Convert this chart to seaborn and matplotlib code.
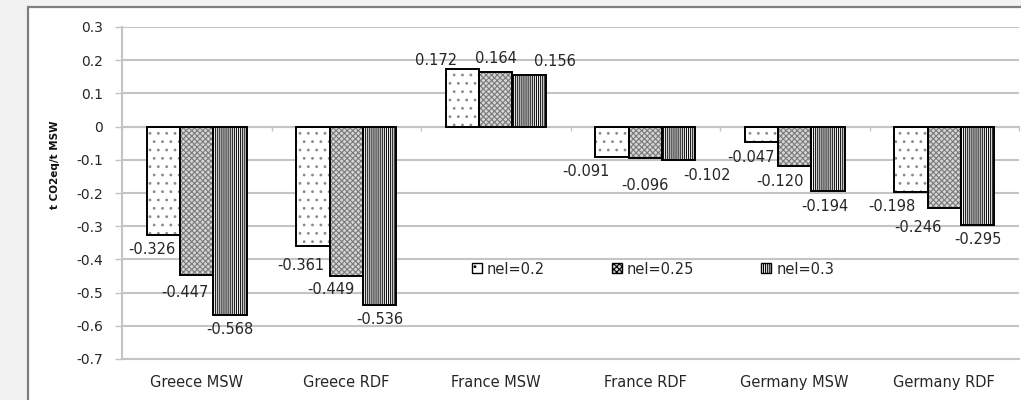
import matplotlib
matplotlib.use("Agg")
import matplotlib.pyplot as plt
import matplotlib.patches as mpatches
from matplotlib.ticker import FixedLocator
import numpy as np
import pandas as pd
import seaborn as sns

# Net GHG emissions per tonne of MSW for each case and electrical efficiency
cases = ["Greece MSW", "Greece RDF", "France MSW", "France RDF", "Germany MSW", "Germany RDF"]
series_labels = ["nel=0.2", "nel=0.25", "nel=0.3"]
nel_020 = [-0.326, -0.361, 0.172, -0.091, -0.047, -0.198]
nel_025 = [-0.447, -0.449, 0.164, -0.096, -0.120, -0.246]
nel_030 = [-0.568, -0.536, 0.156, -0.102, -0.194, -0.295]
y_ticks = [0.3, 0.2, 0.1, 0.0, -0.1, -0.2, -0.3, -0.4, -0.5, -0.6, -0.7]
y_label = "t CO2eq/t MSW"

sns.set_style("white")
plt.rcParams["font.family"] = ["DejaVu Sans"]
plt.rcParams["axes.unicode_minus"] = False
plt.rcParams["hatch.linewidth"] = 0.8

text_color = "#262626"
grid_color = "#c4c4c4"

df = pd.DataFrame({
    "case": np.repeat(cases, 3),
    "series": series_labels * len(cases),
    "value": np.column_stack([nel_020, nel_025, nel_030]).ravel(),
})

fig = plt.figure(figsize=(10.21, 4.0), dpi=100, facecolor="#f2f2f2")
W, H = 1021, 400

# white chart panel with grey border, kept behind the axes
fig.patches.append(mpatches.Rectangle((27.5 / W, -0.1), 1.2, 1.0 - 6.5 / H + 0.1,
                                      transform=fig.transFigure, facecolor="white",
                                      edgecolor="#7f7f7f", linewidth=1.6, zorder=-5))

ax = fig.add_axes([122 / W, 41 / H, 897 / W, 332 / H])
ax.set_facecolor("white")

fills = {"nel=0.2": "#ffffff", "nel=0.25": "#d6d6d6", "nel=0.3": "#ffffff"}
sns.barplot(data=df, x="case", y="value", hue="series", order=cases,
            hue_order=series_labels, palette=fills, width=0.67, gap=0,
            errorbar=None, legend=False, ax=ax, zorder=2)

hatches = ["..", "xxxxxx", "||||||||"]
hatch_colors = ["#8a8a8a", "#7a7a7a", "#111111"]

# label nudges (pixels): horizontal shift, distance away from bar end
nudges = [
    [(-11, 15), (-12, 19), (-26, 9), (-26, 15), (-10, 15), (-19, 14)],
    [(-12, 17), (-15, 14), (0, 14), (0, 27), (-15, 15), (-26, 19)],
    [(0, 14), (0, 15), (26, 13), (28, 15), (-3, 15), (0, 15)],
]

for i, cont in enumerate(ax.containers):
    for j, p in enumerate(cont.patches):
        p.set_hatch(hatches[i])
        p.set_edgecolor(hatch_colors[i])
        p.set_linewidth(0)
        ax.add_patch(mpatches.Rectangle(p.get_xy(), p.get_width(), p.get_height(),
                                        fill=False, edgecolor="black", linewidth=1.4,
                                        zorder=3))
        val = cont.datavalues[j]
        cx = p.get_x() + p.get_width() / 2
        dx, dy = nudges[i][j]
        oy = dy if val > 0 else -dy
        ax.annotate(f"{val:.3f}", xy=(cx, val), xytext=(dx, oy),
                    textcoords="offset pixels", ha="center", va="center",
                    fontsize=10.5, color=text_color, zorder=4)

# axes, ticks and grid
ax.set_xlim(-0.5, len(cases) - 0.5)
ax.set_ylim(-0.7, 0.3)
ax.set_yticks(y_ticks)
ax.set_yticklabels(["0" if abs(v) < 1e-9 else f"{v:.1f}" for v in y_ticks])
ax.yaxis.grid(True, color=grid_color, linewidth=1.5)
ax.set_axisbelow(True)

for side in ["left", "bottom", "top"]:
    ax.spines[side].set_color(grid_color)
    ax.spines[side].set_linewidth(1.5)
ax.spines["right"].set_visible(False)
ax.spines["top"].set_position(("data", 0))
ax.spines["top"].set_zorder(2.5)

ax.tick_params(axis="y", left=True, length=5, width=1, color=grid_color,
               pad=8.5, labelsize=10, labelcolor=text_color, direction="out")
ax.tick_params(axis="x", which="major", bottom=False, top=False,
               labelbottom=True, pad=8.0, labelsize=10.5, labelcolor=text_color)
ax.xaxis.set_minor_locator(FixedLocator(np.arange(-0.5, len(cases), 1.0)))
ax.tick_params(axis="x", which="minor", top=True, bottom=False,
               direction="in", length=3, width=1, color=grid_color)

ax.set_xlabel("")
ax.set_ylabel("")
fig.text(55 / W, 1 - 165 / H, y_label, rotation=90, ha="center", va="center",
         fontsize=7.5, fontweight="bold", color="#111111")

handles = [mpatches.Patch(facecolor=fills[s], edgecolor="black", hatch=h, linewidth=1.0)
           for s, h in zip(series_labels, hatches)]
ax.legend(handles, series_labels, loc="center", bbox_to_anchor=(0.592, 0.271),
          ncol=3, frameon=False, fontsize=10.5, handlelength=0.69, handleheight=0.69,
          handletextpad=0.34, columnspacing=4.6, labelcolor=text_color)

fig.savefig("out.png", dpi=100, facecolor=fig.get_facecolor())
